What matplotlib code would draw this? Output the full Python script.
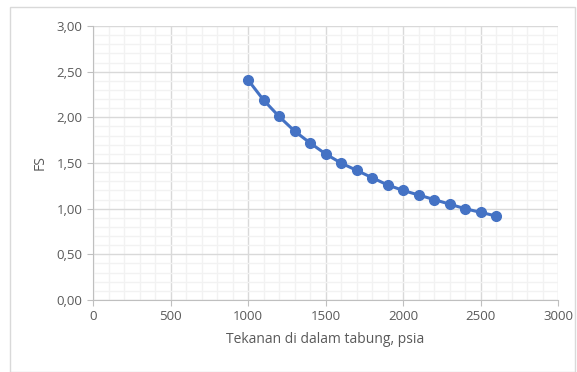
import matplotlib.pyplot as plt
from matplotlib.ticker import MultipleLocator, FuncFormatter
from matplotlib.patches import Rectangle

# data
tekanan = [1000, 1100, 1200, 1300, 1400, 1500, 1600, 1700, 1800,
           1900, 2000, 2100, 2200, 2300, 2400, 2500, 2600]
fs = [2.41, 2.19, 2.01, 1.85, 1.72, 1.60, 1.50, 1.42, 1.34,
      1.26, 1.20, 1.15, 1.10, 1.05, 1.00, 0.96, 0.92]

plt.rcParams['font.family'] = ['Open Sans', 'DejaVu Sans']

fig = plt.figure(figsize=(5.77, 3.72), dpi=100)
# outer chart frame
fig.patches.append(Rectangle((10/577, 0), 565/577, 1 - 7/372,
                             transform=fig.transFigure, fill=False,
                             edgecolor='#D9D9D9', linewidth=1))

ax = fig.add_axes([93/577, 72/372, 465/577, 274/372])
ax.plot(tekanan, fs, color='#4472C4', linewidth=2.2, marker='o',
        markersize=7, zorder=3)

ax.set_xlim(0, 3000)
ax.set_ylim(0, 3)
ax.xaxis.set_major_locator(MultipleLocator(500))
ax.xaxis.set_minor_locator(MultipleLocator(100))
ax.yaxis.set_major_locator(MultipleLocator(0.5))
ax.yaxis.set_minor_locator(MultipleLocator(0.1))
ax.yaxis.set_major_formatter(FuncFormatter(lambda v, p: f'{v:.2f}'.replace('.', ',')))

ax.grid(which='major', color='#D9D9D9', linewidth=1)
ax.grid(which='minor', color='#F2F2F2', linewidth=1)
ax.set_axisbelow(True)

for s in ['top', 'right']:
    ax.spines[s].set_visible(False)
for s in ['left', 'bottom']:
    ax.spines[s].set_color('#BFBFBF')

ax.tick_params(which='major', length=4, color='#BFBFBF', labelcolor='#595959',
               labelsize=9.5)
ax.tick_params(which='minor', length=0)

ax.set_xlabel('Tekanan di dalam tabung, psia', color='#595959', fontsize=10, labelpad=6)
ax.set_ylabel('FS', color='#595959', fontsize=10, labelpad=6)

fig.savefig('out.png', dpi=100)
